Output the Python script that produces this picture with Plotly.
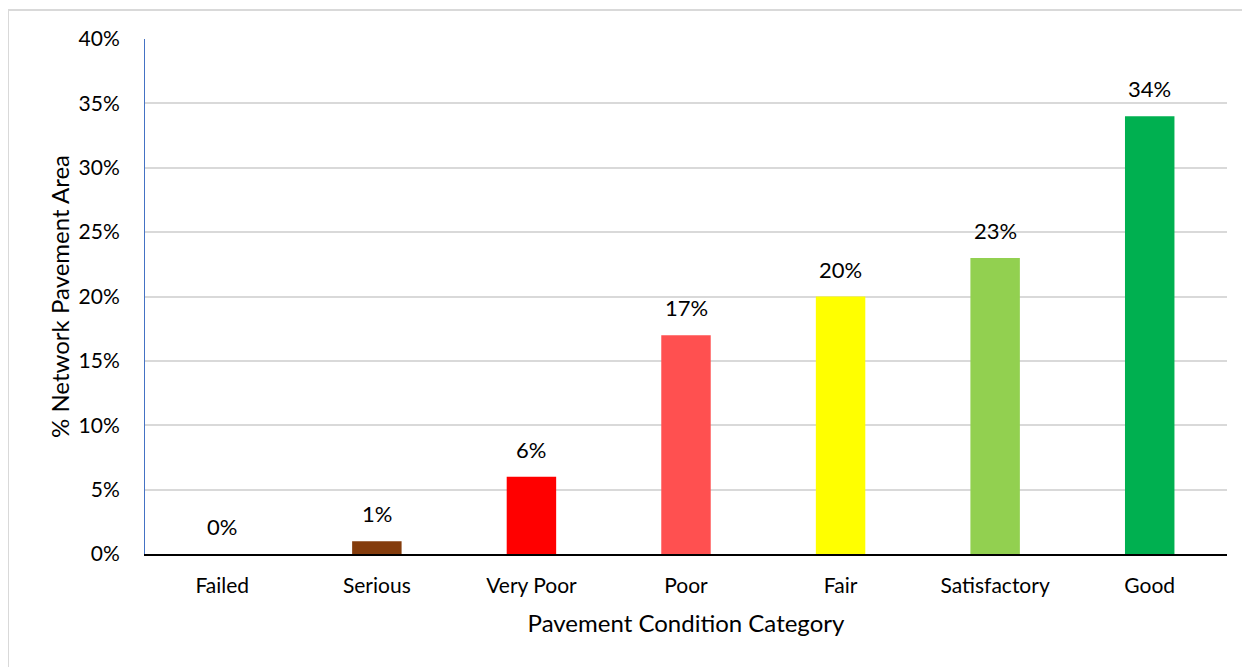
import plotly.graph_objects as go

categories = ["Failed", "Serious", "Very Poor", "Poor", "Fair", "Satisfactory", "Good"]
values = [0, 1, 6, 17, 20, 23, 34]
colors = ["#C00000", "#843C0C", "#FF0000", "#FF5050", "#FFFF00", "#92D050", "#00B050"]
y_ticks = [0, 5, 10, 15, 20, 25, 30, 35, 40]
y_tick_labels = [f"{v}%" for v in y_ticks]

FONT = "Lato, Calibri, sans-serif"

fig = go.Figure()
fig.add_trace(go.Bar(
    x=categories, y=values, marker=dict(color=colors, line=dict(width=0)),
    width=0.32, hoverinfo="x+y",
))

for c, v in zip(categories, values):
    fig.add_annotation(x=c, y=v, text=f"{v}%", showarrow=False,
                       yanchor="bottom", yshift=12,
                       font=dict(family=FONT, size=22, color="#000000"))

# outer chart border
fig.add_shape(type="rect", xref="paper", yref="paper",
              x0=(8 - 145) / 1082, x1=(1265 - 145) / 1082,
              y0=-(690 - 554) / 515, y1=1 + (39 - 10) / 515,
              line=dict(color="#D9D9D9", width=2), fillcolor="rgba(0,0,0,0)", layer="below")

fig.update_layout(
    width=1250, height=667,
    margin=dict(l=137, r=31, t=31, b=121),
    paper_bgcolor="white", plot_bgcolor="white",
    showlegend=False,
    font=dict(family=FONT, size=21, color="#000000"),
    xaxis=dict(
        title=dict(text="Pavement Condition Category", font=dict(size=24), standoff=19),
        showline=True, linecolor="#000000", linewidth=2,
        showgrid=False, ticks="outside", ticklen=12, tickcolor="rgba(0,0,0,0)",
        tickfont=dict(size=21),
    ),
    yaxis=dict(
        title=dict(text="% Network Pavement Area", font=dict(size=24), standoff=2),
        range=[0, 40], tickvals=y_ticks, ticktext=y_tick_labels,
        showline=True, linecolor="#4472C4", linewidth=1,
        showgrid=True, gridcolor="#D9D9D9", gridwidth=1.5,
        zeroline=False, ticks="outside", ticklen=20, tickcolor="rgba(0,0,0,0)",
        tickfont=dict(size=21),
    ),
    bargap=0.68,
)

fig.write_html("out.html")
